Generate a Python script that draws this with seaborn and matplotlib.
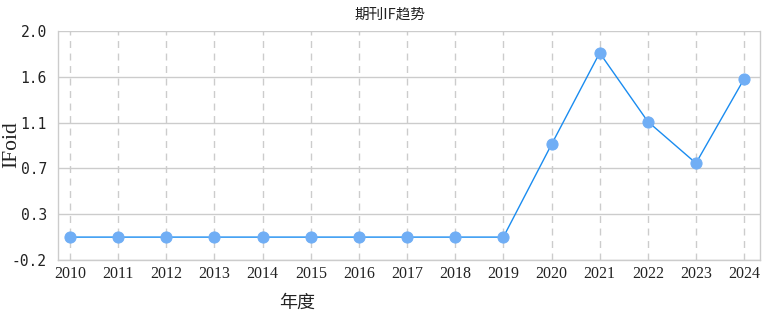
import matplotlib
matplotlib.use("Agg")
import matplotlib.pyplot as plt
import seaborn as sns
import pandas as pd

years = [2010, 2011, 2012, 2013, 2014, 2015, 2016, 2017, 2018, 2019, 2020, 2021, 2022, 2023, 2024]
if_values = [0.0, 0.0, 0.0, 0.0, 0.0, 0.0, 0.0, 0.0, 0.0, 0.0, 0.89, 1.77, 1.11, 0.71, 1.52]
y_ticks = [-0.22, 0.22, 0.66, 1.10, 1.54, 1.98]
y_tick_labels = ["-0.2", "0.3", "0.7", "1.1", "1.6", "2.0"]
title = "期刊IF趋势"
x_label = "年度"
y_label = "IFoid"

sns.set_theme(style="white")
plt.rcParams['font.family'] = ['Noto Sans CJK SC', 'DejaVu Sans']

df = pd.DataFrame({"idx": list(range(len(years))), "val": if_values})

fig = plt.figure(figsize=(7.82, 3.30), dpi=100)
ax = fig.add_axes([58/782, 70/330, (760-58)/782, (260-31)/330])

sns.lineplot(data=df, x="idx", y="val", ax=ax, color="#1a8cf0", linewidth=1.0,
             marker="o", markersize=8, markerfacecolor="#70aef5", markeredgecolor="#70aef5", zorder=3)

ax.set_xlim(-0.25, 14.33)
ax.set_ylim(y_ticks[0], y_ticks[-1])
ax.set_yticks(y_ticks)
ax.set_yticklabels(y_tick_labels, family="DejaVu Sans Mono", fontsize=10.5, color="#222222")
ax.set_xticks(list(range(len(years))))
ax.set_xticklabels([str(y) for y in years], family="Liberation Serif", fontsize=11.5, color="#222222")
ax.tick_params(axis="both", length=0, pad=4)
ax.tick_params(axis="y", pad=8)

ax.grid(axis="y", color="#cccccc", linewidth=1.0, linestyle="-")
ax.grid(axis="x", color="#cccccc", linewidth=1.0, linestyle=(0, (5, 4)))
ax.set_axisbelow(True)
for s in ["left", "bottom", "right"]:
    ax.spines[s].set_color("#cccccc")
    ax.spines[s].set_linewidth(1.0)
ax.spines["top"].set_visible(False)

ax.set_xlabel("")
ax.set_ylabel("")
fig.text(390/782, 1 - 15/330, title, ha="center", va="center", fontsize=10.5, color="#222222")
fig.text(297/782, 1 - 303/330, x_label, ha="center", va="center", fontsize=13, color="#222222")
fig.text(12/782, 1 - 145/330, y_label, ha="center", va="center", rotation=90, fontsize=15.5,
         family="Liberation Serif", color="#222222")

fig.savefig("out.png", dpi=100)
